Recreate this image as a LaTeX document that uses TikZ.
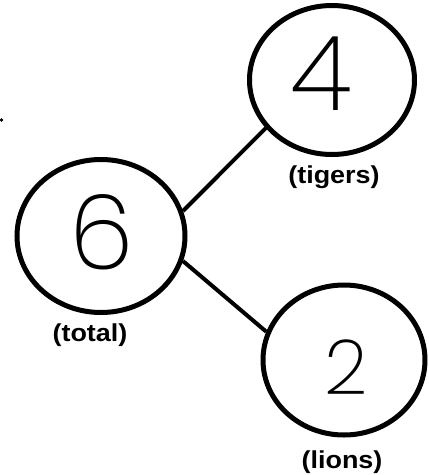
\documentclass[tikz,border=0pt]{standalone}
\usepackage{fontspec}
\usetikzlibrary{shapes.geometric}
\newfontfamily\lblfont{Liberation Sans}[FakeStretch=1.1]
\newfontfamily\handfont{Poppins ExtraLight}

\begin{document}
\begin{tikzpicture}[x=1pt,y=-1pt,
  bubble/.style={draw,ellipse,line width=5pt,inner sep=0pt},
  digit/.style={font=\handfont\fontsize{104}{104}\selectfont,inner sep=0pt},
  lbl/.style={font=\lblfont\bfseries\fontsize{24.5}{24.5}\selectfont,inner sep=0pt}]
\useasboundingbox (0,0) rectangle (429,475);
\node [bubble,minimum width=168pt,minimum height=153pt] (total) at (101,236) {};
\node [bubble,minimum width=165pt,minimum height=149pt] (tigers) at (332,80) {};
\node [bubble,minimum width=162pt,minimum height=150pt] (lions) at (344,360) {};
\draw [line width=4pt] (total.17) -- (tigers.216);
\draw [line width=4pt] (total.-17) -- (lions.160);
\node [digit] (six) at (102,232) {6};
\node [digit] (four) at (321,74) {4};
\node [digit,font=\handfont\fontsize{76}{76}\selectfont] (two) at (346,367) {2};
\node [lbl] (totallbl) at (90,335) {(total)};
\node [lbl] (tigerslbl) at (334,177) {(tigers)};
\node [lbl] (lionslbl) at (342,462) {(lions)};
\fill (1.5,120) circle (1.8pt);
\end{tikzpicture}
\end{document}
